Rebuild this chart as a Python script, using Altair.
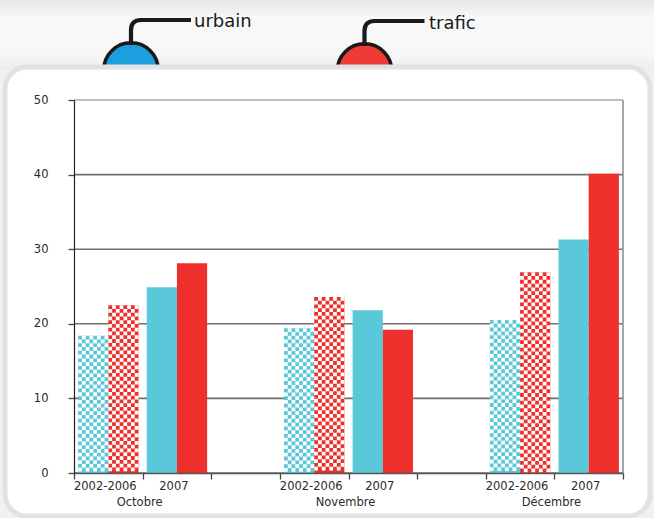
import altair as alt
import pandas as pd

# ---- data -------------------------------------------------------------
months = ["Octobre", "Novembre", "Décembre"]
periods = ["2002-2006", "2007"]
series = ["urbain", "trafic"]

urbain_2002_2006 = [18.4, 19.4, 20.5]
trafic_2002_2006 = [22.5, 23.6, 26.9]
urbain_2007 = [24.9, 21.8, 31.3]
trafic_2007 = [28.1, 19.2, 40.1]

y_ticks = [0, 10, 20, 30, 40, 50]

# ---- layout -----------------------------------------------------------
W, H = 549, 373
YMAX = 50
N_SLOTS = 8                     # two period slots per month, one empty slot between months
FONT = "DejaVu Sans"
TEXT = "#2b2b2b"
FILL = {"urbain": "#5bc8da", "trafic": "#ee302c"}
DOME = {"urbain": "#1c9fdf", "trafic": "#ee3b36"}
SUB = {"urbain": (0.06, 0.50), "trafic": (0.50, 0.94)}   # bar span inside a slot

values = {
    ("2002-2006", "urbain"): urbain_2002_2006,
    ("2002-2006", "trafic"): trafic_2002_2006,
    ("2007", "urbain"): urbain_2007,
    ("2007", "trafic"): trafic_2007,
}

rows = []
for m, month in enumerate(months):
    for p, period in enumerate(periods):
        slot = 3 * m + p
        for s in series:
            a, b = SUB[s]
            rows.append({
                "mois": month, "periode": period, "serie": s,
                "valeur": values[(period, s)][m],
                "x0": slot + a, "x1": slot + b,
                "damier": period == "2002-2006",
            })
bars = pd.DataFrame(rows)

# checkerboard texture for the 2002-2006 bars: rows of white squares,
# laid from the top of each bar downwards
bar_px = (SUB["urbain"][1] - SUB["urbain"][0]) * W / N_SLOTS
NSQ = 8
sq_px = bar_px / NSQ
sq_u = sq_px / (H / YMAX)


def row_path(parity):
    k = 2.0 / NSQ
    parts = []
    for c in range(NSQ):
        if (c + parity) % 2 == 1:
            xa, xb = -1 + c * k, -1 + (c + 1) * k
            ya, yb = -k / 2, k / 2
            parts.append(f"M{xa:.4f},{ya:.4f}L{xb:.4f},{ya:.4f}L{xb:.4f},{yb:.4f}L{xa:.4f},{yb:.4f}Z")
    return "".join(parts)


paths = [row_path(0), row_path(1)]
tex = []
for r in bars[bars["damier"]].itertuples():
    n = int(r.valeur / sq_u)
    for i in range(n):
        tex.append({"xc": (r.x0 + r.x1) / 2, "yc": r.valeur - (i + 0.5) * sq_u, "forme": paths[i % 2]})
texture = pd.DataFrame(tex)

period_labels = pd.DataFrame(
    [{"x": 3 * m + p + 0.5, "txt": per} for m in range(len(months)) for p, per in enumerate(periods)]
)
month_labels = pd.DataFrame([{"x": 3 * m + 1, "txt": mo} for m, mo in enumerate(months)])
grid = pd.DataFrame({"v": y_ticks})

xscale = alt.Scale(domain=[0, N_SLOTS], nice=False, zero=False)
yscale = alt.Scale(domain=[0, YMAX], nice=False)

# ---- decoration: top band, sensor icons, white panel -------------------
top_band = alt.Chart(pd.DataFrame({"k": [0]})).mark_rect(
    fill=alt.Gradient(
        gradient="linear", x1=0, x2=0, y1=0, y2=1,
        stops=[alt.GradientStop(color="#e6e6e6", offset=0),
               alt.GradientStop(color="#f8f8f8", offset=0.25),
               alt.GradientStop(color="#f8f8f8", offset=0.75),
               alt.GradientStop(color="#ececec", offset=1)],
    )
).encode(x=alt.value(-74), x2=alt.value(W + 31), y=alt.value(-100), y2=alt.value(-30))

cable = "M0,0.2L0,-1.3Q0,-2.3,1,-2.3L6,-2.3"

def sensor(s, cx, cy_dome, label_x, label_y):
    dome = alt.Chart(pd.DataFrame({"serie": [s]})).mark_point(
        shape="circle", filled=True, fill=DOME[s], stroke="#1a1a1a",
        strokeWidth=3.5, opacity=1, size=2970,
    ).encode(x=alt.value(cx), y=alt.value(cy_dome))
    wire = alt.Chart(pd.DataFrame({"serie": [s]})).mark_point(
        shape=cable, filled=False, stroke="#1a1a1a", strokeWidth=4.2,
        opacity=1, size=400, strokeCap="butt",
    ).encode(x=alt.value(cx), y=alt.value(cy_dome - 27))
    name = alt.Chart(pd.DataFrame({"serie": [s]})).mark_text(
        align="left", baseline="alphabetic", font=FONT, fontSize=18, color="#1a1a1a",
    ).encode(x=alt.value(label_x), y=alt.value(label_y), text="serie:N")
    return dome + wire + name

panel = alt.Chart(pd.DataFrame({"k": [0]})).mark_rect(
    fill="white", stroke="#e2e2e2", strokeWidth=5, cornerRadius=22,
).encode(x=alt.value(-69), x2=alt.value(576), y=alt.value(-33), y2=alt.value(416))

# ---- plot ---------------------------------------------------------------
gridlines = alt.Chart(grid).mark_rule(strokeWidth=1.6).encode(
    x=alt.value(0), x2=alt.value(W),
    y=alt.Y("v:Q", scale=yscale),
    color=alt.condition("datum.v == 50", alt.value("#ababab"), alt.value("#707070")),
)

right_edge = alt.Chart(pd.DataFrame({"k": [0]})).mark_rule(
    color="#8a8a8a", strokeWidth=1.5
).encode(x=alt.value(W), y=alt.value(0), y2=alt.value(H))

bar_layer = alt.Chart(bars).mark_bar().encode(
    x=alt.X("x0:Q", scale=xscale,
            axis=alt.Axis(values=list(range(N_SLOTS + 1)), labels=False, title=None,
                          grid=False, tickSize=6, tickColor="#444", tickWidth=1.3,
                          domainColor="#555", domainWidth=1.5, zindex=1)),
    x2="x1:Q",
    y=alt.Y("valeur:Q", scale=yscale,
            axis=alt.Axis(values=y_ticks, title=None, grid=False, tickSize=6,
                          tickColor="#444", tickWidth=1.3, domainColor="#222",
                          domainWidth=1.2, labelPadding=20, labelFont=FONT,
                          labelFontSize=11.5, labelColor=TEXT, zindex=1)),
    y2=alt.datum(0),
    fill=alt.Fill("serie:N", scale=alt.Scale(domain=series, range=[FILL[s] for s in series]),
                  legend=None),
)

checks = alt.Chart(texture).mark_point(
    filled=True, fill="white", strokeWidth=0, opacity=1
).encode(
    x=alt.X("xc:Q", scale=xscale),
    y=alt.Y("yc:Q", scale=yscale),
    shape=alt.Shape("forme:N", scale=None),
    size=alt.value(bar_px ** 2),
)

per_text = alt.Chart(period_labels).mark_text(
    font=FONT, fontSize=11.5, color=TEXT, baseline="alphabetic", dx=-3
).encode(x=alt.X("x:Q", scale=xscale), y=alt.value(H + 16.5), text="txt:N")

month_text = alt.Chart(month_labels).mark_text(
    font=FONT, fontSize=11.5, color=TEXT, baseline="alphabetic", dx=-3
).encode(x=alt.X("x:Q", scale=xscale), y=alt.value(H + 33), text="txt:N")

chart = alt.layer(
    top_band,
    sensor("urbain", 57, -30, 120, -73.3),
    sensor("trafic", 290.5, -29, 355, -71),
    panel,
    gridlines,
    right_edge,
    bar_layer,
    checks,
    per_text,
    month_text,
).properties(
    width=W, height=H,
    autosize=alt.AutoSizeParams(type="none"),
    padding={"left": 74, "top": 100, "right": 31, "bottom": 45},
    background="#f1f1f1",
).configure_view(stroke=None)

chart.save("out.html", embed_options={"renderer": "svg", "actions": False})
